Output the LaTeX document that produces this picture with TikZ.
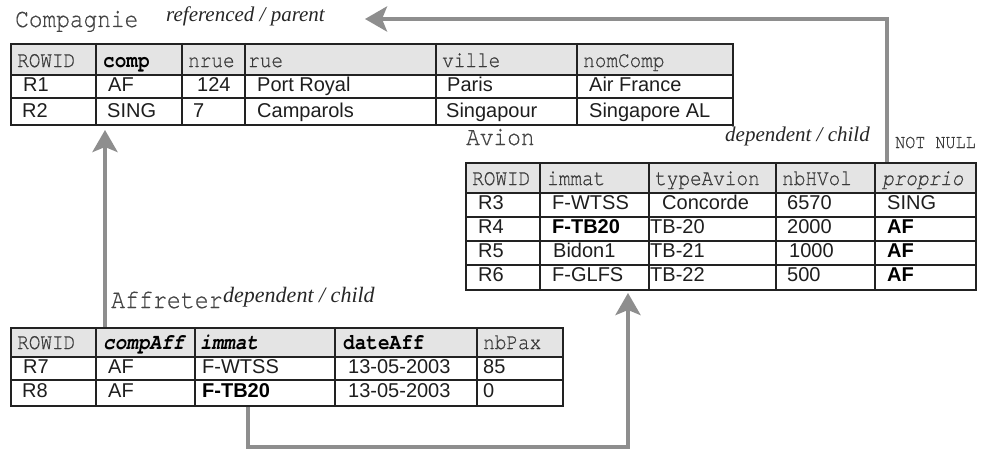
\documentclass[tikz,border=0pt]{standalone}
\usepackage{fontspec}
\setmainfont{Liberation Serif}
\setsansfont{Liberation Sans}
\setmonofont{TeX Gyre Cursor}[Ligatures={NoCommon,NoRequired}, FakeStretch=0.86, UprightFeatures={FakeBold=0.5}, ItalicFeatures={FakeBold=0.5}]
\usetikzlibrary{arrows.meta}
\definecolor{hdrfill}{HTML}{E4E4E4}
\definecolor{hdrtext}{HTML}{3A3A3A}
\definecolor{dattext}{HTML}{1E1E1E}
\definecolor{gridc}{HTML}{222222}
\definecolor{linkgray}{HTML}{8E8E8E}
\definecolor{ttltext}{HTML}{444444}
\tikzset{
  hdr/.style={font=\ttfamily\fontsize{22.5}{23}\selectfont, text=hdrtext, inner sep=0pt, anchor=base west},
  hdrb/.style={hdr, font=\ttfamily\bfseries\fontsize{22.5}{23}\selectfont, text=black},
  hdrbi/.style={hdr, font=\ttfamily\bfseries\itshape\fontsize{22.5}{23}\selectfont, text=black},
  hdri/.style={hdr, font=\ttfamily\itshape\fontsize{22.5}{23}\selectfont},
  dat/.style={font=\sffamily\fontsize{20}{20}\selectfont, text=dattext, inner sep=0pt, anchor=base west},
  datb/.style={dat, font=\sffamily\bfseries\fontsize{20}{20}\selectfont, text=black},
  ttl/.style={font=\ttfamily\fontsize{26.5}{27}\selectfont, text=ttltext, inner sep=0pt, anchor=base west},
  role/.style={font=\itshape\fontsize{21}{21}\selectfont, text=black!85, inner sep=0pt, anchor=base west},
  nn/.style={font=\ttfamily\fontsize{19.5}{20}\selectfont, text=hdrtext, inner sep=0pt, anchor=base west},
  tbl/.style={draw=gridc, line width=2pt, inner sep=0pt, anchor=north west},
  gridline/.style={draw=gridc, line width=1.5pt},
  link/.style={draw=linkgray, line width=4pt, line join=miter, -{Stealth[length=22pt,width=25pt,inset=5pt]}}
}
\newcommand\celltext[5]{\node[#2] (#1) at (#3,#4) {#5};}
\begin{document}
\begin{tikzpicture}[x=1pt,y=-1pt]
\useasboundingbox[fill=white] (0,0) rectangle (990,452);

% ---------------- Compagnie ----------------
\fill[hdrfill] (10,43) rectangle (732,75);
\foreach \x in {96,182,245,436,577} \draw[gridline] (\x,43) -- (\x,124);
\foreach \y in {75,98} \draw[gridline] (10,\y) -- (732,\y);
\node[tbl, minimum width=722pt, minimum height=81pt] (compagnie) at (10,43) {};

\celltext{cT}{ttl}{15}{27}{Compagnie}
\celltext{cR}{role}{166}{22}{referenced / parent}

\celltext{cH1}{hdr}{17}{67}{ROWID}
\celltext{cH2}{hdrb}{103}{67}{comp}
\celltext{cH3}{hdr}{188}{67}{nrue}
\celltext{cH4}{hdr}{248}{67}{rue}
\celltext{cH5}{hdr}{442}{67}{ville}
\celltext{cH6}{hdr}{583}{67}{nomComp}

\celltext{c11}{dat}{23}{91}{R1}
\celltext{c12}{dat}{108}{91}{AF}
\celltext{c13}{dat}{197}{91}{124}
\celltext{c14}{dat}{257}{91}{Port Royal}
\celltext{c15}{dat}{447}{91}{Paris}
\celltext{c16}{dat}{589}{91}{Air France}

\celltext{c21}{dat}{22}{117}{R2}
\celltext{c22}{dat}{107}{117}{SING}
\celltext{c23}{dat}{193}{117}{7}
\celltext{c24}{dat}{257}{117}{Camparols}
\celltext{c25}{dat}{446}{117}{Singapour}
\celltext{c26}{dat}{589}{117}{Singapore AL}

% ---------------- Avion ----------------
\fill[hdrfill] (465,162) rectangle (975,193);
\foreach \x in {540,649,776,875} \draw[gridline] (\x,162) -- (\x,289);
\foreach \y in {193,217,241,265} \draw[gridline] (465,\y) -- (975,\y);
\node[tbl, minimum width=510pt, minimum height=127pt] (avion) at (465,162) {};

\celltext{aT}{ttl}{466}{145}{Avion}
\node[role, anchor=base east] (aR) at (870,141) {dependent / child};
\celltext{aN}{nn}{895}{148}{NOT NULL}

\celltext{aH1}{hdr}{472}{185}{ROWID}
\celltext{aH2}{hdr}{547}{185}{immat}
\celltext{aH3}{hdr}{655}{185}{typeAvion}
\celltext{aH4}{hdr}{782}{185}{nbHVol}
\celltext{aH5}{hdri}{882}{185}{proprio}

\celltext{a11}{dat}{478}{209}{R3}
\celltext{a12}{dat}{552}{209}{F-WTSS}
\celltext{a13}{dat}{662}{209}{Concorde}
\celltext{a14}{dat}{787}{209}{6570}
\celltext{a15}{dat}{887}{209}{SING}

\celltext{a21}{dat}{478}{233}{R4}
\celltext{a22}{datb}{552}{233}{F-TB20}
\celltext{a23}{dat}{650}{233}{TB-20}
\celltext{a24}{dat}{787}{233}{2000}
\celltext{a25}{datb}{887}{233}{AF}

\celltext{a31}{dat}{478}{257}{R5}
\celltext{a32}{dat}{553}{257}{Bidon1}
\celltext{a33}{dat}{650}{257}{TB-21}
\celltext{a34}{dat}{789}{257}{1000}
\celltext{a35}{datb}{887}{257}{AF}

\celltext{a41}{dat}{478}{281}{R6}
\celltext{a42}{dat}{552}{281}{F-GLFS}
\celltext{a43}{dat}{650}{281}{TB-22}
\celltext{a44}{dat}{787}{281}{500}
\celltext{a45}{datb}{887}{281}{AF}

% ---------------- Affreter ----------------
\fill[hdrfill] (10,327) rectangle (562,357);
\foreach \x in {96,195,335,477} \draw[gridline] (\x,327) -- (\x,405);
\foreach \y in {357,380} \draw[gridline] (10,\y) -- (562,\y);
\node[tbl, minimum width=552pt, minimum height=78pt] (affreter) at (10,327) {};

\node[ttl, font=\ttfamily\fontsize{27}{27}\selectfont] (fT) at (111,308) {Affreter};
\node[role, font=\itshape\fontsize{22}{22}\selectfont] (fR) at (223,302) {dependent / child};

\celltext{fH1}{hdr}{17}{349}{ROWID}
\celltext{fH2}{hdrbi}{103}{349}{compAff}
\celltext{fH3}{hdrbi}{200}{349}{immat}
\celltext{fH4}{hdrb}{343}{349}{dateAff}
\celltext{fH5}{hdr}{483}{349}{nbPax}

\celltext{f11}{dat}{23}{373}{R7}
\celltext{f12}{dat}{108}{373}{AF}
\celltext{f13}{dat}{202}{373}{F-WTSS}
\celltext{f14}{dat}{348}{373}{13-05-2003}
\celltext{f15}{dat}{483}{373}{85}

\celltext{f21}{dat}{22}{397}{R8}
\celltext{f22}{dat}{108}{397}{AF}
\celltext{f23}{datb}{202}{397}{F-TB20}
\celltext{f24}{dat}{348}{397}{13-05-2003}
\celltext{f25}{dat}{483}{397}{0}

% ---------------- links ----------------
\coordinate (refTip) at (365,19);
\coordinate (lowBend) at (400,447);
\draw[link] ([xshift=422pt]avion.north west) |- (refTip);
\draw[link] ([xshift=95pt]affreter.north west) -- ([xshift=95pt,yshift=-4pt]compagnie.south west);
\draw[link] ([xshift=238pt]affreter.south west) |- (lowBend) -| ([xshift=163pt,yshift=-2pt]avion.south west);
\end{tikzpicture}
\end{document}
